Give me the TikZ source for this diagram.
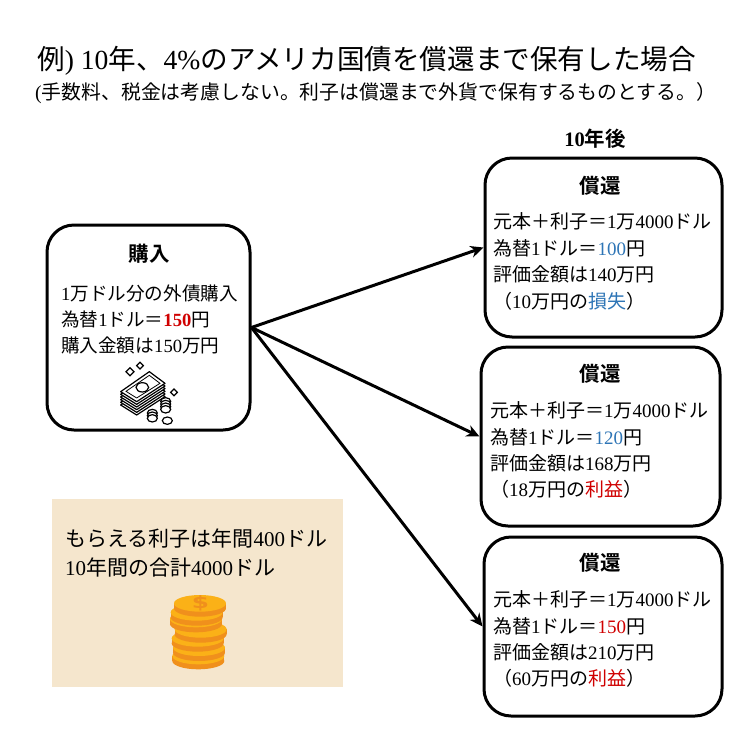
\documentclass[tikz,border=0pt]{standalone}
\usepackage{fontspec}
\setmainfont{Noto Sans CJK JP}[BoldFont={Noto Sans CJK JP Bold}]
\newfontfamily\lmfont{Liberation Serif}
\newfontfamily\dollarfont{DejaVu Sans Bold}
\newcommand{\lt}[1]{{\lmfont #1}}
\definecolor{lossblue}{HTML}{2E75B6}
\definecolor{gainred}{HTML}{D00000}
\definecolor{panelbg}{HTML}{F5E6CD}
\definecolor{coinedge}{HTML}{F0901C}
\definecolor{coinface}{HTML}{FBB117}
\usetikzlibrary{arrows.meta,calc}
\newcommand{\rb}[1]{\textcolor{gainred}{#1}}
\newcommand{\bl}[1]{\textcolor{lossblue}{#1}}
\newcommand{\coin}[2]{%
  \fill[coinedge] (#1,#2) ellipse[x radius=78,y radius=25];
  \fill[coinedge] (#1-78,#2-15) rectangle (#1+78,#2);
  \fill[coinface] (#1,#2-15) ellipse[x radius=78,y radius=25];}
\newcommand{\bill}[1]{%
  \filldraw[fill=white,draw=black,line width=1.2pt,line join=round] (148,65+#1) -- (195,100+#1) -- (110,155+#1) -- (62,125+#1) -- cycle;}
\newcommand{\minicoin}[3]{%
  \foreach \k in {#3,...,0}{\filldraw[fill=white,draw=black,line width=1.2pt] (#1,#2-8*\k) ellipse[x radius=15,y radius=11];}}
\tikzset{
  x=1pt,y=-1pt,
  card/.style={draw=black,line width=3pt,fill=white,rounded corners=27pt,inner sep=0pt},
  txt/.style={anchor=base west,inner sep=0pt,font=\fontsize{19}{21}\selectfont},
  buytxt/.style={txt,font=\fontsize{18.6}{21}\selectfont},
  head/.style={anchor=center,inner sep=0pt,font=\fontsize{20.5}{22}\selectfont\bfseries},
  link/.style={line width=3pt,-{Stealth[length=13pt,width=12pt]}},
}
\begin{document}
\begin{tikzpicture}
\useasboundingbox (0,0) rectangle (740,740);
\fill[white] (0,0) rectangle (740,740);
% titles
\node[anchor=base west,inner sep=0pt,font=\fontsize{27.6}{30}\selectfont] (title) at (37,69) {例\lt{) 10}年、\lt{4\%}のアメリカ国債を償還まで保有した場合};
\node[anchor=base west,inner sep=0pt,font=\fontsize{19.85}{22}\selectfont] (subtitle) at (35,99) {\lt{(}手数料、税金は考慮しない。利子は償還まで外貨で保有するものとする。）};
\node[head] (after) at (595,139) {\lt{\bfseries 10}年後};
% boxes
\node[card,minimum width=203pt,minimum height=205pt] (buy) at (148.5,327.5) {};
\node[card,minimum width=237pt,minimum height=179pt] (r1) at (603.5,247.5) {};
\node[card,minimum width=239pt,minimum height=179pt] (r2) at (600.5,436.5) {};
\node[card,minimum width=238pt,minimum height=179pt] (r3) at (603,626.5) {};
% connectors
\draw[link] (buy.east) -- (r1.west);
\draw[link] (buy.east) -- (r2.west);
\draw[link] (buy.east) -- (r3.west);
% buy text
\node[head] (buyh) at (149,254) {購入};
\node[buytxt] (b1) at (61,300.5) {\lt{1}万ドル分の外債購入};
\node[buytxt] (b2) at (61,326.5) {為替\lt{1}ドル＝\rb{\lt{\bfseries 150}}円};
\node[buytxt] (b3) at (61,352.5) {購入金額は\lt{150}万円};
% result 1
\node[head] (h1) at (600,186) {償還};
\node[txt] (a1) at (493,228.5) {元本＋利子＝\lt{1}万\lt{4000}ドル};
\node[txt] (a2) at (493,255.5) {為替\lt{1}ドル＝\bl{\lt{100}}円};
\node[txt] (a3) at (493,281.5) {評価金額は\lt{140}万円};
\node[txt] (a4) at (493,308.5) {（\lt{10}万円の\bl{損失}）};
% result 2
\node[head] (h2) at (600,374) {償還};
\node[txt] (c1) at (490,417.5) {元本＋利子＝\lt{1}万\lt{4000}ドル};
\node[txt] (c2) at (490,444.5) {為替\lt{1}ドル＝\bl{\lt{120}}円};
\node[txt] (c3) at (490,470.5) {評価金額は\lt{168}万円};
\node[txt] (c4) at (490,496.5) {（\lt{18}万円の\rb{利益}）};
% result 3
\node[head] (h3) at (600,563) {償還};
\node[txt] (d1) at (493,606.5) {元本＋利子＝\lt{1}万\lt{4000}ドル};
\node[txt] (d2) at (493,633.5) {為替\lt{1}ドル＝\rb{\lt{150}}円};
\node[txt] (d3) at (493,659.5) {評価金額は\lt{210}万円};
\node[txt] (d4) at (493,685.5) {（\lt{60}万円の\rb{利益}）};
% panel
\fill[panelbg] (52,499) rectangle (343,687);
\node[txt,font=\fontsize{21}{23}\selectfont] (p1) at (65,546.5) {もらえる利子は年間\lt{400}ドル};
\node[txt,font=\fontsize{21}{23}\selectfont] (p2) at (65,575.5) {\lt{10}年間の合計\lt{4000}ドル};
% coin stack
\begin{scope}[shift={(150,580)},x=0.3333pt,y=-0.3333pt]
\coin{145}{243}
\coin{147}{218}
\coin{143}{190}
\coin{152}{163}
\coin{138}{132}
\coin{140}{112}
\coin{150}{85}
\node[font=\dollarfont\fontsize{17}{17}\selectfont,text=coinedge,inner sep=0pt,xscale=1.45] (dollar) at (151,71) {\$};
\end{scope}
% money icon
\begin{scope}[shift={(100,350)},x=0.3333pt,y=-0.3333pt]
\bill{40}\bill{32}\bill{24}\bill{16}\bill{8}\bill{0}
\draw[line width=.8pt] (148,76) -- (180,100) -- (110,144) -- (78,124) -- cycle;
\draw[line width=1.2pt,fill=white] (127,112) ellipse[x radius=19,y radius=14];
\foreach \p/\r in {{(90,65)}/12,{(120,47)}/10,{(222,127)}/10}{
  \path \p coordinate (dm);
  \draw[line width=1.2pt] ($(dm)+(-\r,0)$) -- ($(dm)+(0,-\r)$) -- ($(dm)+(\r,0)$) -- ($(dm)+(0,\r)$) -- cycle;
}
\minicoin{197}{178}{3}
\minicoin{157}{205}{2}
\minicoin{202}{212}{0}
\end{scope}
\end{tikzpicture}
\end{document}
